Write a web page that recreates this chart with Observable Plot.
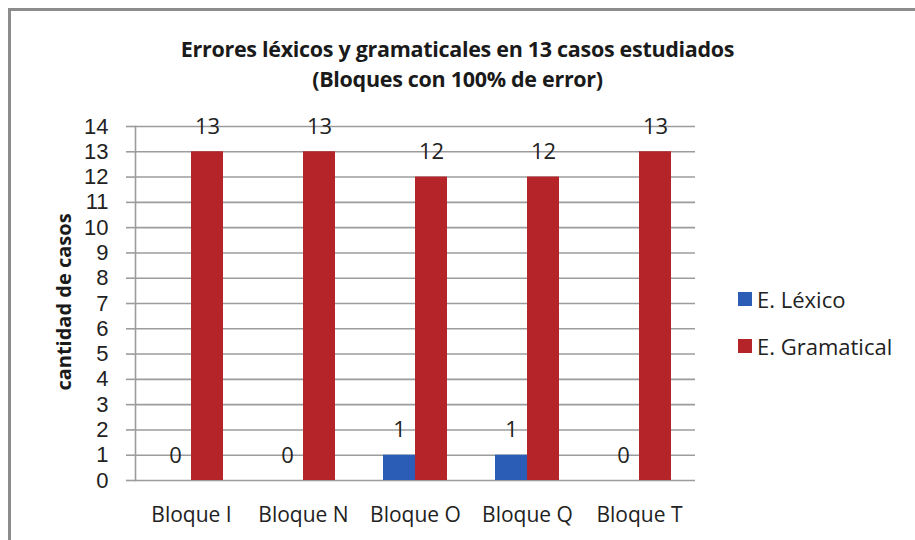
<!DOCTYPE html>
<html>
<head>
<meta charset="utf-8">
<script src="https://cdn.jsdelivr.net/npm/d3@7"></script>
<script src="https://cdn.jsdelivr.net/npm/@observablehq/plot@0.6"></script>
<style>
  html, body { margin: 0; padding: 0; background: #fff; }
  #wrap { position: relative; width: 915px; height: 540px; overflow: hidden; font-family: "Open Sans", Lato, sans-serif; color: #222; }
  #border { position: absolute; left: 8px; top: 8px; width: 940px; height: 560px; border-top: 3px solid #8c8c8c; border-left: 3px solid #8c8c8c; box-sizing: border-box; }
  #title { position: absolute; left: 0; top: 34px; width: 915px; text-align: center; font-weight: bold; font-size: 21.5px; line-height: 30px; color: #1a1a1a; letter-spacing: -0.3px; }
  #ylabel { position: absolute; left: 63px; top: 302px; transform: translate(-50%, -50%) rotate(-90deg); white-space: nowrap; font-weight: bold; font-size: 20px; color: #1a1a1a; }
  #legend { position: absolute; left: 738px; top: 284px; font-size: 22px; }
  #legend .item { display: flex; align-items: center; height: 30px; margin-bottom: 17px; }
  #legend .sw { width: 14px; height: 14px; margin-right: 5px; }
  #chart { position: absolute; left: 0; top: 0; }
</style>
</head>
<body>
<div id="wrap">
  <div id="chart"></div>
  <div id="border"></div>
  <div id="title">Errores léxicos y gramaticales en 13 casos estudiados<br>(Bloques con 100% de error)</div>
  <div id="ylabel">cantidad de casos</div>
  <div id="legend"></div>
</div>
<script>
const categories = ["Bloque I", "Bloque N", "Bloque O", "Bloque Q", "Bloque T"];
const series = ["E. Léxico", "E. Gramatical"];
const lexico = [0, 0, 1, 1, 0];
const gramatical = [13, 13, 12, 12, 13];
const yTicks = [0, 1, 2, 3, 4, 5, 6, 7, 8, 9, 10, 11, 12, 13, 14];
const colors = ["#2b5cb6", "#b42428"];

const data = categories.flatMap((c, i) => [
  {bloque: c, serie: series[0], value: lexico[i]},
  {bloque: c, serie: series[1], value: gramatical[i]}
]);

const W = 915, H = 540, ML = 135, MR = 220, MT = 126, MB = 60;
const facetW = (W - ML - MR) / categories.length;
const gridColor = "#9c9c9c";
const textColor = "#222";

const chart = Plot.plot({
  width: W, height: H,
  marginLeft: ML, marginRight: MR, marginTop: MT, marginBottom: MB,
  style: {fontFamily: "'Open Sans', Lato, sans-serif", color: textColor, background: "transparent"},
  fx: {domain: categories, padding: 0, label: null},
  x: {domain: series, paddingInner: 0, paddingOuter: 0.75, axis: null},
  y: {domain: [0, 14], label: null},
  color: {domain: series, range: colors},
  marks: [
    Plot.gridY(yTicks, {stroke: gridColor, strokeOpacity: 1, strokeWidth: 1.6}),
    Plot.axisY(yTicks, {tickSize: 9, tickPadding: 18, stroke: gridColor, strokeWidth: 1.6, fill: textColor, fontSize: 22, fontFamily: "'Liberation Sans', Arial, sans-serif", label: null}),
    Plot.frame({anchor: "left", facetAnchor: "left", stroke: gridColor, strokeWidth: 1.6}),
    Plot.ruleX(categories, {fx: d => d, y1: 0, y2: 0, insetBottom: -7, dx: -facetW / 2, stroke: gridColor, strokeWidth: 1.6}),
    Plot.ruleX(categories.slice(-1), {fx: d => d, y1: 0, y2: 0, insetBottom: -7, dx: facetW / 2, stroke: gridColor, strokeWidth: 1.6}),
    Plot.barY(data, {fx: "bloque", x: "serie", y: "value", fill: "serie"}),
    Plot.text(data, {fx: "bloque", x: "serie", y: "value", text: d => String(d.value), dy: -25, fontSize: 22, fill: textColor}),
    Plot.axisFx({anchor: "bottom", tickSize: 0, tickPadding: 27, fontSize: 21, fill: textColor, label: null})
  ]
});
document.getElementById("chart").appendChild(chart);

const legend = document.getElementById("legend");
series.forEach((s, i) => {
  const item = document.createElement("div");
  item.className = "item";
  const sw = document.createElement("div");
  sw.className = "sw";
  sw.style.background = colors[i];
  const t = document.createElement("span");
  t.textContent = s;
  item.appendChild(sw);
  item.appendChild(t);
  legend.appendChild(item);
});
</script>
</body>
</html>
